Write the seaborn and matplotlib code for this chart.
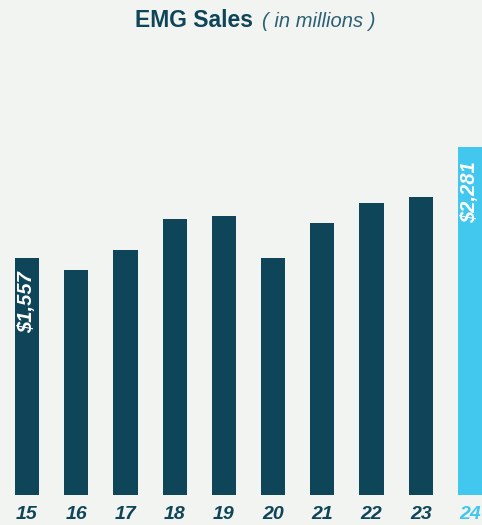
import matplotlib
matplotlib.use("Agg")
import matplotlib.pyplot as plt
import seaborn as sns
import pandas as pd

years = ["15", "16", "17", "18", "19", "20", "21", "22", "23", "24"]
sales = [1557, 1475, 1606, 1810, 1830, 1554, 1784, 1915, 1955, 2281]
labelled = {"15": "$1,557", "24": "$2,281"}

dark = "#0e4558"
light = "#42c7ee"
bg = "#f2f4f1"
colors = [dark] * 9 + [light]

sns.set_theme(style="white")
plt.rcParams["font.family"] = ["Liberation Sans", "DejaVu Sans"]

fig = plt.figure(figsize=(4.82, 5.25), dpi=100, facecolor=bg)
H = 525.0
base_px = 494.5
top_px = 50.0
ax = fig.add_axes([0, (H - base_px) / H, 1, (base_px - top_px) / H])
ax.set_facecolor(bg)

df = pd.DataFrame({"year": years, "sales": sales})
sns.barplot(data=df, x="year", y="sales", hue="year", palette=colors,
            width=0.49, legend=False, ax=ax, saturation=1, order=years,
            hue_order=years, linewidth=0, edgecolor="none")

ax.set_xlim(-0.549, 9.245)
ax.set_ylim(0, (base_px - top_px) * 6.57)
for s in ax.spines.values():
    s.set_visible(False)
ax.set_yticks([])
ax.set_xlabel("")
ax.set_ylabel("")
ax.tick_params(axis="x", length=0, pad=8)
ax.set_xticks(range(len(years)))
ax.set_xticklabels(years, fontsize=14, fontweight="bold", fontstyle="italic")
for t, c in zip(ax.get_xticklabels(), colors):
    t.set_color(c)

for i, (y, v) in enumerate(zip(years, sales)):
    if y in labelled:
        ax.annotate(labelled[y], xy=(i, v), xytext=(0, -14),
                    textcoords="offset pixels", rotation=90,
                    ha="center", va="top", color="white",
                    fontsize=14.5, fontweight="bold", fontstyle="italic")

fig.text(0.524, 1 - 27 / H, "EMG Sales", ha="right", va="baseline",
         fontsize=16.5, fontweight="bold", color=dark)
fig.text(0.543, 1 - 27 / H, "( in millions )", ha="left", va="baseline",
         fontsize=14.5, fontstyle="italic", color="#2c6074")

fig.savefig("out.png", dpi=100, facecolor=bg)
